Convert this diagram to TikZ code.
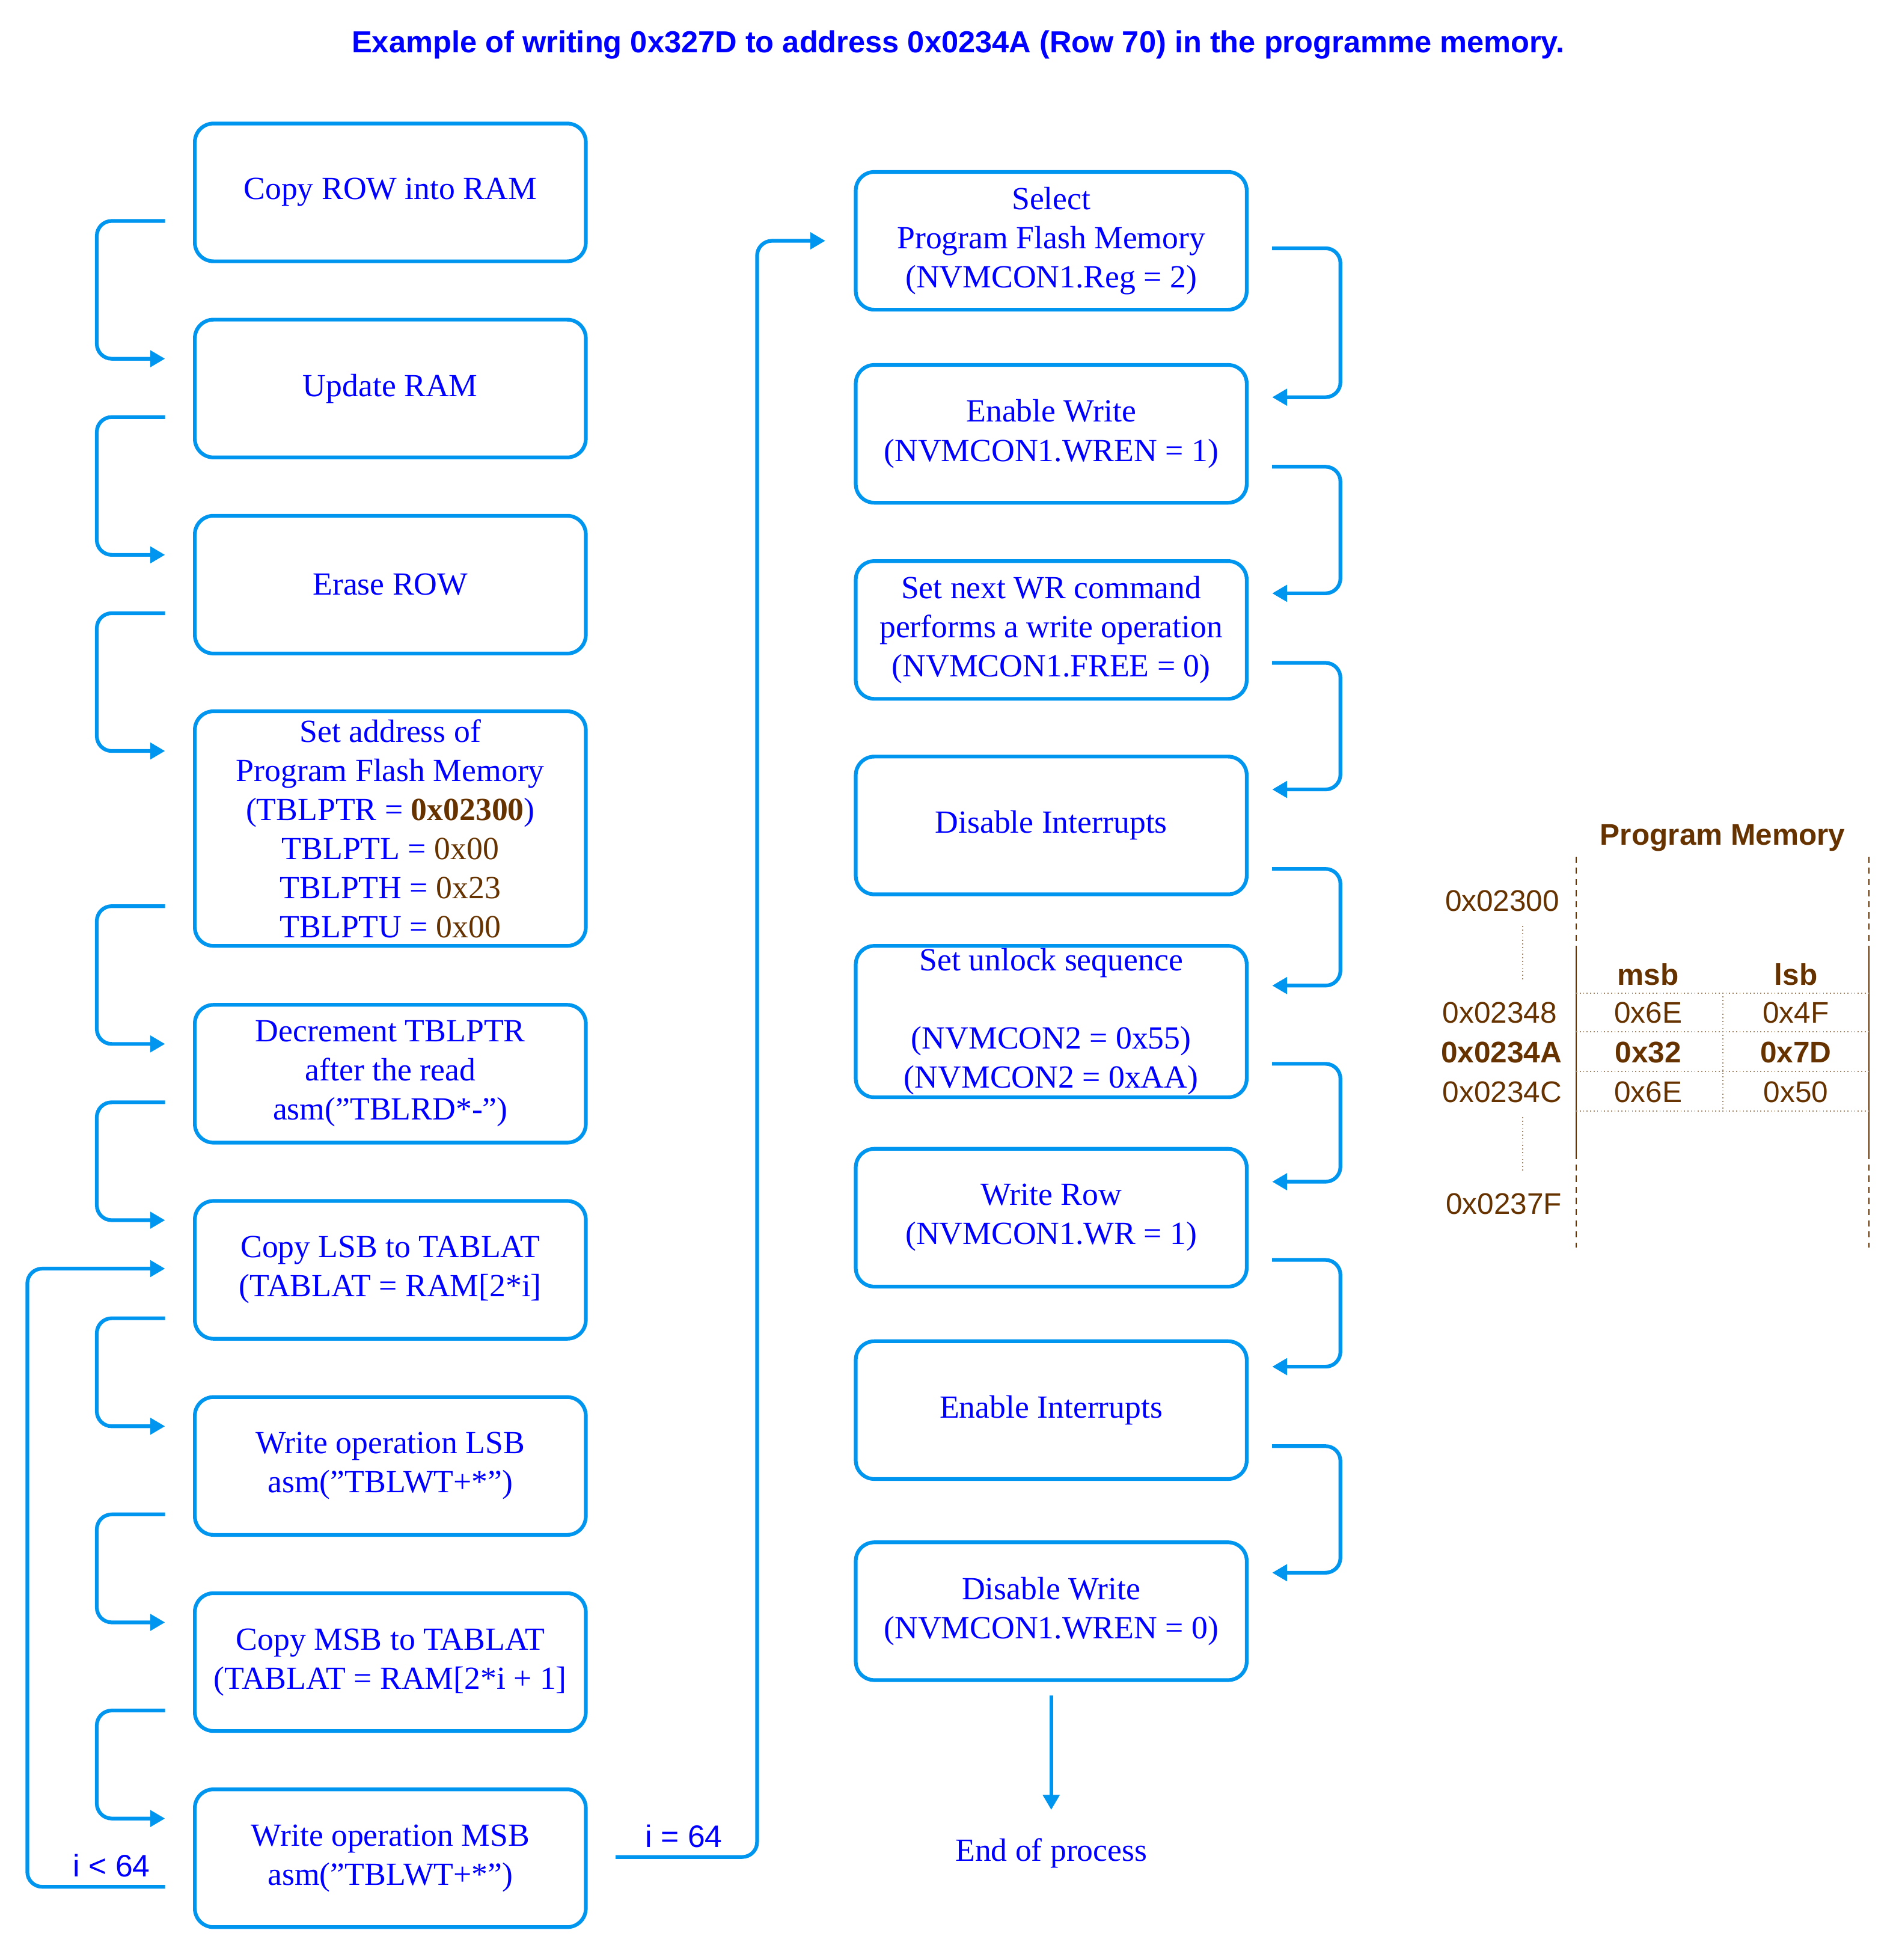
\documentclass[tikz,border=0pt]{standalone}
\usepackage{fontspec}
\setmainfont{Liberation Serif}
\newfontfamily\sansf{Liberation Sans}
\usetikzlibrary{arrows.meta}
\definecolor{ln}{RGB}{0,150,240}
\definecolor{tb}{RGB}{0,0,255}
\definecolor{br}{RGB}{102,51,0}
\begin{document}
\begin{tikzpicture}[x=1pt,y=-1pt,
  box/.style={draw=ln,line width=3pt,rounded corners=15pt,minimum width=315pt,minimum height=#1,align=center,text=tb,font=\fontsize{26}{31.5}\selectfont,inner sep=0pt},
  box/.default=111pt,
  con/.style={draw=ln,line width=3pt,rounded corners=12pt,-{Triangle[length=12pt,width=13pt]}},
  lab/.style={text=tb,font=\sansf\fontsize{25}{30}\selectfont},
  pm/.style={text=br,font=\sansf\fontsize{24}{28}\selectfont},
  pmb/.style={text=br,font=\sansf\bfseries\fontsize{24}{28}\selectfont}]
\useasboundingbox (0,0) rectangle (1530,1579);
\node[text=tb,font=\sansf\bfseries\fontsize{24.5}{28}\selectfont] (title) at (772,36) {Example of writing 0x327D to address 0x0234A (Row 70) in the programme memory.};
% left column
\def\L{314.5}
\node[box] (l1) at (\L,155) {Copy ROW into RAM};
\node[box] (l2) at (\L,313) {Update RAM};
\node[box] (l3) at (\L,471) {Erase ROW};
\node[box=189pt] (l4) at (\L,667.5) {Set address of\\Program Flash Memory\\(TBLPTR = \textcolor{br}{\textbf{0x02300}})\\TBLPTL = \textcolor{br}{0x00}\\TBLPTH = \textcolor{br}{0x23}\\TBLPTU = \textcolor{br}{0x00}};
\node[box] (l5) at (\L,865) {Decrement TBLPTR\\after the read\\asm("TBLRD*-")};
\node[box] (l6) at (\L,1023) {Copy LSB to TABLAT\\(TABLAT = RAM[2*i]};
\node[box] (l7) at (\L,1181) {Write operation LSB\\asm("TBLWT+*")};
\node[box] (l8) at (\L,1339) {Copy MSB to TABLAT\\(TABLAT = RAM[2*i + 1]};
\node[box] (l9) at (\L,1497) {Write operation MSB\\asm("TBLWT+*")};
% left connectors
\foreach \n/\a/\b in {a/178/289,b/336/447,c/494/605,d/730/841,e/888/983,f/1062/1149,g/1220/1307,h/1378/1465}{
  \coordinate (s\n) at (133,\a); \coordinate (t\n) at (133,\b);
  \draw[con] (s\n) -- (78,\a) -- (78,\b) -- (t\n);}
\coordinate (lp1) at (133,1520); \coordinate (lp2) at (133,1022);
\draw[con] (lp1) -- (22,1520) -- (22,1022) -- (lp2);
\node[lab] (lt) at (90,1503) {i < 64};
\coordinate (eq1) at (496,1496); \coordinate (eq2) at (665,194);
\draw[con] (eq1) -- (610,1496) -- (610,194) -- (eq2);
\node[lab] (et) at (551,1479) {i = 64};
% right column
\def\R{847}
\node[box] (r1) at (\R,194) {Select\\Program Flash Memory\\(NVMCON1.Reg = 2)};
\node[box] (r2) at (\R,349.5) {Enable Write\\(NVMCON1.WREN = 1)};
\node[box] (r3) at (\R,507.5) {Set next WR command\\performs a write operation\\(NVMCON1.FREE = 0)};
\node[box] (r4) at (\R,665) {Disable Interrupts};
\node[box=122pt] (r5) at (\R,823) {Set unlock sequence\\[31.5pt](NVMCON2 = 0x55)\\(NVMCON2 = 0xAA)};
\node[box] (r6) at (\R,981) {Write Row\\(NVMCON1.WR = 1)};
\node[box] (r7) at (\R,1136) {Enable Interrupts};
\node[box] (r8) at (\R,1298) {Disable Write\\(NVMCON1.WREN = 0)};
\foreach \n/\a/\b in {a/200/320,b/376/478,c/534/636,d/700/794,e/857/952,f/1015/1101,g/1165/1267}{
  \coordinate (u\n) at (1025,\a); \coordinate (v\n) at (1025,\b);
  \draw[con] (u\n) -- (1080,\a) -- (1080,\b) -- (v\n);}
\coordinate (ee) at (847,1458);
\draw[con] (847,1366) -- (ee);
\node[text=tb,font=\fontsize{26}{31}\selectfont] (end) at (847,1493) {End of process};
% program memory
\node[pmb] (pt) at (1388,675) {Program Memory};
\draw[br,line width=1pt,dash pattern=on 5pt off 4pt] (1270,690) -- (1270,766) (1506,690) -- (1506,766) (1270,929) -- (1270,1005) (1506,929) -- (1506,1005);
\draw[br,line width=1pt] (1270,766) -- (1270,929) (1506,766) -- (1506,929);
\draw[br!60,line width=0.8pt,dotted] (1270,800) -- (1506,800) (1270,831) -- (1506,831) (1270,863) -- (1506,863) (1270,895) -- (1506,895) (1388,800) -- (1388,895) (1227,746) -- (1227,790) (1227,900) -- (1227,944);
\node[pm,anchor=east] (a1) at (1260,726) {0x02300};
\node[pm,anchor=east] (a2) at (1258,816) {0x02348};
\node[pmb,anchor=east] (a3) at (1262,848) {0x0234A};
\node[pm,anchor=east] (a4) at (1262,880) {0x0234C};
\node[pm,anchor=east] (a5) at (1262,970) {0x0237F};
\node[pmb] (h1) at (1328,785) {msb};
\node[pmb] (h2) at (1447,785) {lsb};
\node[pm] (c1) at (1328,816) {0x6E};
\node[pm] (c2) at (1447,816) {0x4F};
\node[pmb] (c3) at (1328,848) {0x32};
\node[pmb] (c4) at (1447,848) {0x7D};
\node[pm] (c5) at (1328,880) {0x6E};
\node[pm] (c6) at (1447,880) {0x50};
\end{tikzpicture}
\end{document}
